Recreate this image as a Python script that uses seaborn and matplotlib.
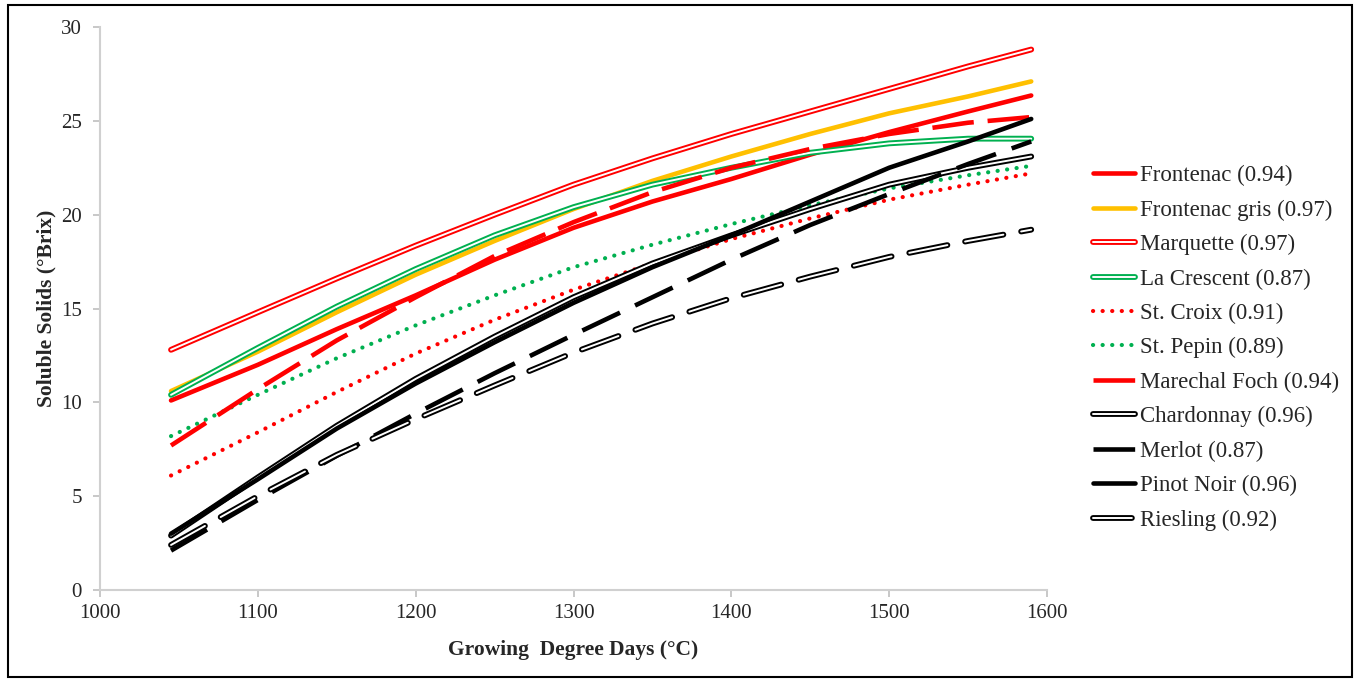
import pandas as pd
import matplotlib.pyplot as plt
import matplotlib.patheffects as pe
from matplotlib.patches import Rectangle
import seaborn as sns

gdd = [1045, 1100, 1150, 1200, 1250, 1300, 1350, 1400, 1450, 1500, 1550, 1590]

frontenac = [10.1, 12.0, 13.9, 15.7, 17.6, 19.3, 20.7, 21.9, 23.2, 24.4, 25.5, 26.35]
frontenac_gris = [10.6, 12.7, 14.8, 16.8, 18.6, 20.3, 21.8, 23.1, 24.3, 25.4, 26.3, 27.1]
marquette = [12.8, 14.8, 16.6, 18.35, 20.0, 21.6, 23.0, 24.3, 25.5, 26.7, 27.9, 28.8]
la_crescent = [10.4, 12.9, 15.1, 17.1, 18.9, 20.4, 21.6, 22.5, 23.3, 23.8, 24.05, 24.05]
st_croix = [6.1, 8.4, 10.55, 12.6, 14.4, 16.0, 17.4, 18.7, 19.8, 20.8, 21.6, 22.2]
st_pepin = [8.2, 10.4, 12.35, 14.1, 15.7, 17.2, 18.4, 19.5, 20.5, 21.4, 22.1, 22.6]
marechal_foch = [7.7, 10.7, 13.3, 15.6, 17.8, 19.6, 21.2, 22.5, 23.5, 24.3, 24.9, 25.2]
chardonnay = [2.9, 6.0, 8.75, 11.25, 13.5, 15.6, 17.4, 18.9, 20.3, 21.6, 22.5, 23.1]
merlot = [2.1, 4.8, 7.15, 9.4, 11.55, 13.6, 15.6, 17.6, 19.45, 21.1, 22.7, 23.9]
pinot_noir = [3.0, 5.9, 8.6, 11.0, 13.2, 15.3, 17.2, 18.9, 20.7, 22.5, 23.9, 25.1]
riesling = [2.4, 5.0, 7.2, 9.1, 10.9, 12.65, 14.2, 15.55, 16.7, 17.75, 18.6, 19.2]

labels = ["Frontenac (0.94)", "Frontenac gris (0.97)", "Marquette (0.97)",
          "La Crescent (0.87)", "St. Croix (0.91)", "St. Pepin (0.89)",
          "Marechal Foch (0.94)", "Chardonnay (0.96)", "Merlot (0.87)",
          "Pinot Noir (0.96)", "Riesling (0.92)"]
series = [frontenac, frontenac_gris, marquette, la_crescent, st_croix, st_pepin,
          marechal_foch, chardonnay, merlot, pinot_noir, riesling]

rows = []
for lab, vals in zip(labels, series):
    for x, y in zip(gdd, vals):
        rows.append({"cultivar": lab, "gdd": x, "brix": y})
df = pd.DataFrame(rows)

RED, ORANGE, GREEN, BLACK = "#FF0000", "#FFC000", "#00B050", "#000000"
# (color, linestyle, kind) kind: solid / double / dot
styles = [
    (RED, "-", "solid"),
    (ORANGE, "-", "solid"),
    (RED, "-", "double"),
    (GREEN, "-", "double"),
    (RED, (0, (0.1, 6.8)), "dot"),
    (GREEN, (0, (0.1, 6.8)), "dot"),
    (RED, (0, (30, 10)), "solid"),
    (BLACK, "-", "double"),
    (BLACK, (0, (30, 12)), "solid"),
    (BLACK, "-", "solid"),
    (BLACK, (0, (28, 13)), "double"),
]

sns.set_style("white")
plt.rcParams["font.family"] = ["Liberation Serif", "DejaVu Serif"]
plt.rcParams["lines.scale_dashes"] = False

fig = plt.figure(figsize=(13.56, 6.79), dpi=100)
ax = fig.add_axes([100 / 1356, 89 / 679, 947 / 1356, 563 / 679])

for lab, (col, ls, kind) in zip(labels, styles):
    sub = df[df["cultivar"] == lab]
    if kind == "double":
        sns.lineplot(data=sub, x="gdd", y="brix", ax=ax, color="white", lw=1.4,
                     linestyle=ls, label=lab, dash_capstyle="round",
                     path_effects=[pe.Stroke(linewidth=4.2, foreground=col), pe.Normal()])
    elif kind == "dot":
        sns.lineplot(data=sub, x="gdd", y="brix", ax=ax, color=col, lw=3.0,
                     linestyle=ls, dash_capstyle="round", label=lab)
    else:
        sns.lineplot(data=sub, x="gdd", y="brix", ax=ax, color=col, lw=3.3,
                     linestyle=ls, label=lab)

ax.set_xlim(1000, 1600)
ax.set_ylim(0, 30)
ax.set_xticks(range(1000, 1601, 100))
ax.set_yticks(range(0, 31, 5))
ax.tick_params(axis="x", labelsize=15, length=5, width=1.2, color="#BFBFBF", pad=5, bottom=True)
ax.tick_params(axis="y", labelsize=15, length=5, width=1.2, color="#BFBFBF", pad=8, left=True)
for s in ["top", "right"]:
    ax.spines[s].set_visible(False)
for s in ["left", "bottom"]:
    ax.spines[s].set_color("#D0D0D0")
    ax.spines[s].set_linewidth(1.5)

ax.set_xlabel("Growing  Degree Days (°C)", fontsize=15.5, fontweight="bold", labelpad=12)
ax.set_ylabel("Soluble Solids (°Brix)", fontsize=15.5, fontweight="bold", labelpad=3)

ax.legend(loc="upper left", bbox_to_anchor=(1093 / 1356, 1 - 165 / 679),
          bbox_transform=fig.transFigure, frameon=False, fontsize=16.5,
          handlelength=1.85, handletextpad=0.22, labelspacing=0.58,
          borderpad=0, borderaxespad=0)

fig.patches.append(Rectangle((8 / 1356, 2 / 679), 1344 / 1356, 672 / 679,
                             transform=fig.transFigure, fill=False,
                             edgecolor="black", lw=1.5))

fig.savefig("out.png", dpi=100)
